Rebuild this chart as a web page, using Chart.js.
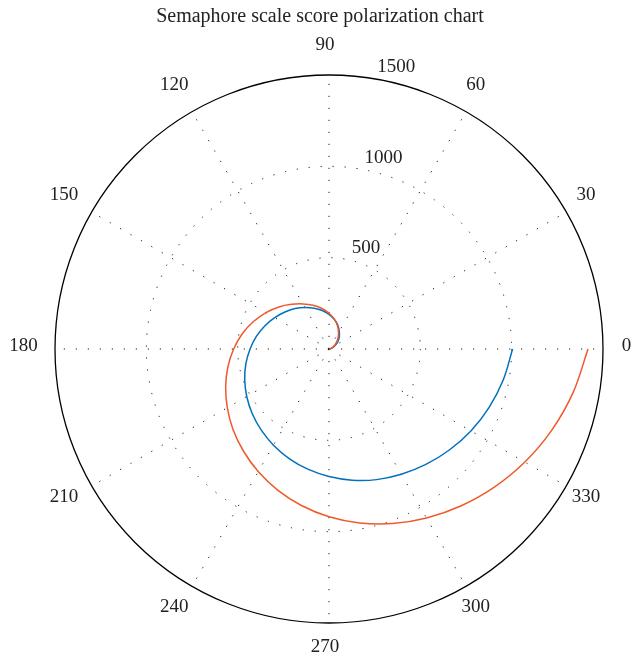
<!DOCTYPE html>
<html>
<head>
<meta charset="utf-8">
<script src="https://cdn.jsdelivr.net/npm/chart.js@4/dist/chart.umd.min.js"></script>
<style>
  html, body { margin: 0; padding: 0; background: #ffffff; }
  canvas { display: block; }
</style>
</head>
<body>
<canvas id="c" width="632" height="658"></canvas>
<script>
// ---- data (angle in degrees, radius in score units) ----
const chartTitle = 'Semaphore scale score polarization chart';

const thetaDeg = [0, 10, 20, 30, 40, 50, 60, 70, 80, 90, 100, 110, 120, 130, 140, 150, 160, 170, 180,
                  190, 200, 210, 220, 230, 240, 250, 260, 270, 280, 290, 300, 310, 320, 330, 340, 350, 360];
const rBlue    = [0, 8, 22, 40, 64, 88, 112, 140, 165, 190, 214, 238, 263, 289, 315, 343, 373, 403, 432,
                  462, 491, 520, 549, 578, 608, 638, 668, 698, 729, 761, 792, 825, 860, 897, 933, 969, 1005];
const rOrange  = [0, 7, 18, 32, 50, 76, 104, 135, 166, 196, 225, 255, 285, 319, 358, 398, 440, 482, 522,
                  562, 602, 643, 686, 729, 775, 822, 870, 918, 967, 1017, 1068, 1122, 1179, 1238, 1298, 1358, 1418];

const angleTicks  = [0, 30, 60, 90, 120, 150, 180, 210, 240, 270, 300, 330];
const radialTicks = [500, 1000, 1500];
const rMax = 1500;

// ---- build cartesian points from polar values ----
function toXY(thetas, radii) {
  return thetas.map((t, i) => {
    const a = t * Math.PI / 180;
    return { x: radii[i] * Math.cos(a), y: radii[i] * Math.sin(a) };
  });
}

const polarGrid = {
  id: 'polarGrid',
  beforeDraw(chart) {
    const ctx = chart.ctx;
    ctx.save();
    ctx.fillStyle = '#ffffff';
    ctx.fillRect(0, 0, chart.width, chart.height);
    ctx.restore();
  },
  beforeDatasetsDraw(chart) {
    const ctx = chart.ctx;
    const xs = chart.scales.x, ys = chart.scales.y;
    const cx = xs.getPixelForValue(0), cy = ys.getPixelForValue(0);
    const R = xs.getPixelForValue(rMax) - cx;
    ctx.save();
    ctx.strokeStyle = '#1a1a1a';
    ctx.lineWidth = 1;
    ctx.setLineDash([1.2, 10.8]);
    angleTicks.forEach(t => {
      if (t >= 180) return;
      const a = t * Math.PI / 180;
      ctx.beginPath();
      ctx.moveTo(cx, cy);
      ctx.lineTo(cx + R * Math.cos(a), cy - R * Math.sin(a));
      ctx.moveTo(cx, cy);
      ctx.lineTo(cx - R * Math.cos(a), cy + R * Math.sin(a));
      ctx.stroke();
    });
    radialTicks.forEach(v => {
      if (v >= rMax) return;
      const rp = xs.getPixelForValue(v) - cx;
      ctx.beginPath();
      ctx.arc(cx, cy, rp, 0, Math.PI * 2);
      ctx.stroke();
    });
    ctx.setLineDash([]);
    ctx.strokeStyle = '#000000';
    ctx.lineWidth = 1.3;
    ctx.beginPath();
    ctx.arc(cx, cy, R, 0, Math.PI * 2);
    ctx.stroke();
    ctx.restore();
  },
  afterDraw(chart) {
    const ctx = chart.ctx;
    const xs = chart.scales.x, ys = chart.scales.y;
    const cx = xs.getPixelForValue(0), cy = ys.getPixelForValue(0);
    const R = xs.getPixelForValue(rMax) - cx;
    ctx.save();
    ctx.fillStyle = '#222222';
    ctx.font = '20px "Liberation Serif", "DejaVu Serif", serif';
    ctx.textAlign = 'center';
    ctx.textBaseline = 'middle';
    ctx.fillText(chartTitle, 320, 17);
    ctx.font = '19px "Liberation Serif", "DejaVu Serif", serif';
    const LR = R * 1.1;
    angleTicks.forEach(t => {
      const a = t * Math.PI / 180;
      ctx.fillText(String(t), cx - 4 + LR * Math.cos(a), cy - 3 - LR * Math.sin(a));
    });
    ctx.textAlign = 'left';
    ctx.textBaseline = 'alphabetic';
    const a82 = 82 * Math.PI / 180;
    radialTicks.forEach(v => {
      const rp = xs.getPixelForValue(v) - cx + R / 60;
      ctx.fillText('  ' + v, cx + rp * Math.cos(a82), cy - rp * Math.sin(a82) - 1);
    });
    ctx.restore();
  }
};

new Chart(document.getElementById('c'), {
  type: 'scatter',
  data: {
    datasets: [
      {
        label: 'Series 1',
        data: toXY(thetaDeg, rBlue),
        showLine: true,
        borderColor: '#0072BD',
        borderWidth: 1.5,
        pointRadius: 0,
        tension: 0.35,
        fill: false,
        order: 1
      },
      {
        label: 'Series 2',
        data: toXY(thetaDeg, rOrange),
        showLine: true,
        borderColor: '#F0592A',
        borderWidth: 1.5,
        pointRadius: 0,
        tension: 0.35,
        fill: false,
        order: 0
      }
    ]
  },
  options: {
    responsive: false,
    animation: false,
    devicePixelRatio: 1,
    layout: { padding: { left: 55, right: 29, top: 75, bottom: 35 } },
    plugins: {
      legend: { display: false },
      tooltip: { enabled: false },
      title: { display: false }
    },
    scales: {
      x: { type: 'linear', min: -rMax, max: rMax, display: false },
      y: { type: 'linear', min: -rMax, max: rMax, display: false }
    }
  },
  plugins: [polarGrid]
});
</script>
</body>
</html>
